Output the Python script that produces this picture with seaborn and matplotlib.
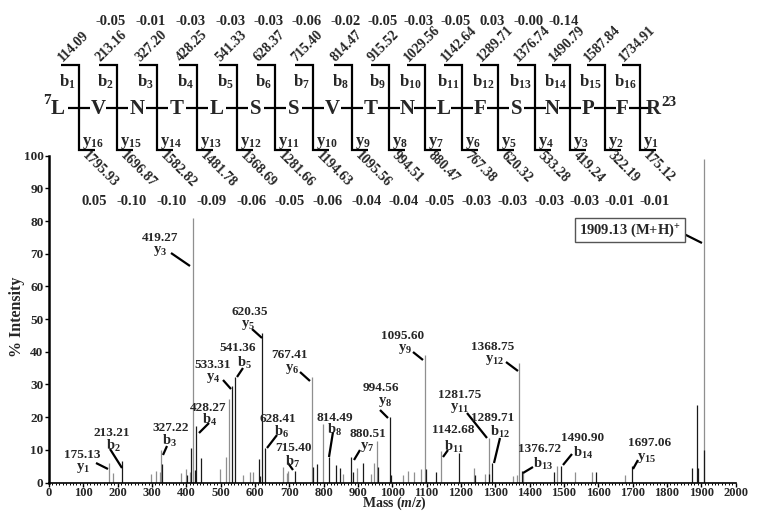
import matplotlib
matplotlib.use("Agg")
import matplotlib.pyplot as plt
from matplotlib.ticker import MultipleLocator
import pandas as pd
import seaborn as sns

# ---------------- peptide fragment ladder ----------------
residues = list("LVNTLSSVTNLFSNPFR")
first_residue = 7
last_residue = 23
b_ions = [114.09, 213.16, 327.20, 428.25, 541.33, 628.37, 715.40, 814.47,
          915.52, 1029.56, 1142.64, 1289.71, 1376.74, 1490.79, 1587.84, 1734.91]
b_errors = [None, -0.05, -0.01, -0.03, -0.03, -0.03, -0.06, -0.02,
            -0.05, -0.03, -0.05, 0.03, -0.00, -0.14, None, None]
# y16 ... y1 (left to right)
y_ions = [1795.93, 1696.87, 1582.82, 1481.78, 1368.69, 1281.66, 1194.63, 1095.56,
          994.51, 880.47, 767.38, 620.32, 533.28, 419.24, 322.19, 175.12]
y_errors = [0.05, -0.10, -0.10, -0.09, -0.06, -0.05, -0.06, -0.04,
            -0.04, -0.05, -0.03, -0.03, -0.03, -0.03, -0.01, -0.01]

# ---------------- assigned fragment peaks ----------------
ann_mz = [175.13, 213.21, 327.22, 419.27, 428.27, 533.31, 541.36, 620.35,
          628.41, 715.40, 767.41, 814.49, 880.51, 994.56, 1095.60, 1142.68,
          1281.75, 1289.71, 1368.75, 1376.72, 1490.90, 1697.06]
ann_int = [6.0, 6.6, 9.9, 81.0, 17.3, 29.6, 32.3, 45.7,
           10.5, 3.6, 32.3, 7.7, 7.8, 20.1, 39.0, 9.6,
           13.5, 6.1, 36.7, 3.5, 5.1, 5.1]
ann_ion = ["y1", "b2", "b3", "y3", "b4", "y4", "b5", "y5",
           "b6", "b7", "y6", "b8", "y7", "y8", "y9", "b11",
           "y11", "b12", "y12", "b13", "b14", "y15"]
ann_dark = [False, True, False, False, True, True, True, True,
            True, True, False, True, True, True, False, False,
            False, True, False, True, True, True]

precursor_mz = 1909.13
precursor_int = 99.0

# ---------------- unassigned peaks ----------------
other_mz = [187.6, 296.5, 312.0, 323.6, 330.4, 384.8, 398.0, 401.0, 411.0, 414.0,
            425.0, 443.0, 498.0, 515.0, 524.6, 566.0, 586.0, 595.5, 612.0, 615.0,
            681.0, 692.6, 697.0, 770.0, 780.0, 797.5, 836.0, 848.0, 856.0, 885.0,
            898.6, 916.0, 937.0, 947.0, 955.0, 957.0, 996.5, 1030.5, 1045.0, 1064.5,
            1083.0, 1098.5, 1126.7, 1195.5, 1238.0, 1240.0, 1270.0, 1283.0, 1352.7, 1362.0,
            1382.0, 1472.0, 1481.0, 1532.5, 1583.0, 1593.0, 1678.0, 1872.0, 1888.7, 1891.7,
            1907.0]
other_int = [2.8, 2.5, 3.5, 3.2, 5.8, 3.0, 4.0, 2.4, 3.2, 10.7,
             3.8, 7.4, 4.0, 7.9, 25.5, 2.4, 3.2, 3.2, 7.2, 2.1,
             4.8, 2.8, 3.6, 4.8, 5.7, 17.9, 5.3, 4.3, 2.7, 3.3,
             4.3, 6.1, 2.7, 6.1, 12.8, 4.8, 2.2, 2.2, 3.5, 3.3,
             4.0, 4.0, 3.3, 8.9, 4.3, 2.2, 2.6, 2.6, 1.9, 2.2,
             3.3, 3.3, 5.1, 3.3, 3.1, 3.3, 2.2, 4.3, 23.7, 4.3,
             9.9]
other_dark = [False, False, False, False, True, False, False, True, False, True,
              True, True, False, False, False, False, False, False, True, True,
              False, False, False, True, True, False, True, True, False, True,
              False, True, False, False, False, True, True, False, False, False,
              False, True, True, True, False, True, False, True, False, False,
              False, True, False, False, False, True, False, True, True, True,
              True]

peaks = pd.DataFrame({
    "mz": ann_mz + [precursor_mz] + other_mz,
    "intensity": ann_int + [precursor_int] + other_int,
    "dark": ann_dark + [False] + other_dark,
})

# ---------------- style ----------------
sns.set_theme(style="ticks")
plt.rcParams["font.family"] = ["Liberation Serif", "DejaVu Serif"]
plt.rcParams["font.weight"] = "bold"
plt.rcParams["mathtext.fontset"] = "custom"
plt.rcParams["mathtext.rm"] = "Liberation Serif:bold"
plt.rcParams["mathtext.bf"] = "Liberation Serif:bold"
plt.rcParams["mathtext.it"] = "Liberation Serif:bold:italic"
plt.rcParams["mathtext.bfit"] = "Liberation Serif:bold:italic"
plt.rcParams["axes.unicode_minus"] = False

W, H = 762, 512
fig = plt.figure(figsize=(W / 100, H / 100), dpi=100)
fig.patch.set_facecolor("white")

# spectrum axes
ax = fig.add_axes([49 / W, (H - 482.5) / H, 686.6 / W, 326.8 / H])
ax.set_facecolor("white")
for dark, grp in peaks.groupby("dark"):
    ax.vlines(grp["mz"], 0, grp["intensity"],
              colors="#1a1a1a" if dark else "#8f8f8f", linewidth=0.9)
ax.set_xlim(0, 2000)
ax.set_ylim(0, 100)
ax.xaxis.set_major_locator(MultipleLocator(100))
ax.xaxis.set_minor_locator(MultipleLocator(10))
ax.yaxis.set_major_locator(MultipleLocator(10))
ax.tick_params(axis="x", which="major", length=3, width=1, direction="out",
               labelsize=9, pad=0, color="black")
ax.tick_params(axis="x", which="minor", length=1.6, width=0.7, direction="out", color="black")
ax.tick_params(axis="y", which="major", length=3, width=1, direction="out",
               labelsize=9.5, pad=1, color="black")
for lab in ax.get_xticklabels() + ax.get_yticklabels():
    lab.set_fontweight("bold")
sns.despine(ax=ax)
ax.spines["left"].set_linewidth(1.8)
ax.spines["bottom"].set_linewidth(1.2)
ax.spines["left"].set_color("black")
ax.spines["bottom"].set_color("black")
ax.grid(False)
ax.set_xlabel("Mass ($m/z$)", fontsize=10, fontweight="bold", va="bottom")
ax.xaxis.set_label_coords((394 - 49) / 686.6, (482.5 - 511.8) / 326.8)
ax.set_ylabel("% Intensity", fontsize=11.5, fontweight="bold", va="center")
ax.yaxis.set_label_coords((17 - 49) / 686.6, (482.5 - 317) / 326.8)

# overlay in figure pixel coordinates for the ladder and peak annotations
ov = fig.add_axes([0, 0, 1, 1], zorder=5)
ov.set_xlim(0, W)
ov.set_ylim(H, 0)
ov.axis("off")
ov.patch.set_alpha(0)

line_kw = dict(color="black", lw=1.6, solid_capstyle="butt", solid_joinstyle="miter")
cut_x = [79, 117, 157, 197, 237, 275, 313, 352, 389, 425, 462, 498, 535, 570, 605, 640]

for i, x in enumerate(cut_x):
    ov.plot([x - 18, x, x, x + 16], [65, 65, 150, 150], **line_kw)
    ov.plot([x - 11, x + 11], [108, 108], **line_kw)
    ov.text(x - 3, 87, f"b$_{{{i + 1}}}$", fontsize=12, ha="right", va="baseline")
    ov.text(x + 3, 145, f"y$_{{{16 - i}}}$", fontsize=12, ha="left", va="baseline")
    ov.text(x - 19, 60, f"{b_ions[i]:.2f}", fontsize=10, rotation=45,
            rotation_mode="anchor", ha="left", va="center")
    ov.text(x + 5, 154, f"{y_ions[i]:.2f}", fontsize=10, rotation=-45,
            rotation_mode="anchor", ha="left", va="center")
    if b_errors[i] is not None:
        ov.text(x - 6, 25, f"{b_errors[i]:.2f}", fontsize=10.5, ha="center", va="baseline")
    ov.text(x + 15, 205, f"{y_errors[i]:.2f}", fontsize=10.5, ha="center", va="baseline")

# residue letters between cleavage sites
res_x = ([cut_x[0] - 21]
         + [(a + b) / 2 for a, b in zip(cut_x[:-1], cut_x[1:])]
         + [cut_x[-1] + 13])
for x, r in zip(res_x, residues):
    ov.text(x, 114, r, fontsize=15, ha="center", va="baseline")
ov.text(res_x[0] - 7, 104, str(first_residue), fontsize=11, ha="right", va="baseline")
ov.text(res_x[-1] + 8, 106, str(last_residue), fontsize=11, ha="left", va="baseline")

# peak annotation layout: mass label centre, ion label centre, leader line
ann_layout = [
    ((82, 455), (83, 468), (96, 463, 108, 469)),
    ((112, 433), (113, 446), (110, 449, 122, 468)),
    ((171, 428), (170, 441), (167, 446, 163, 455)),
    ((160, 238), (160, 251), (171, 253, 190, 266)),
    ((208, 408), (210, 420), (209, 423, 199, 433)),
    ((213, 365), (213, 378), (223, 380, 231, 389)),
    ((238, 348), (245, 363), (243, 368, 237, 377)),
    ((250, 312), (248, 325), (252, 329, 262, 338)),
    ((278, 419), (282, 432), (277, 435, 267, 448)),
    ((293, 448), (293, 462), (288, 463, 293, 470)),
    ((290, 355), (292, 369), (300, 372, 310, 381)),
    ((335, 418), (335, 430), (333, 432, 329, 457)),
    ((368, 434), (367, 447), (360, 450, 354, 460)),
    ((381, 388), (385, 402), (380, 410, 388, 418)),
    ((403, 336), (405, 349), (413, 352, 423, 360)),
    ((453, 430), (454, 447), (448, 450, 443, 457)),
    ((460, 395), (460, 408), (467, 413, 487, 438)),
    ((493, 418), (500, 432), (500, 438, 494, 463)),
    ((493, 347), (495, 360), (506, 362, 518, 371)),
    ((540, 449), (543, 464), (533, 467, 523, 473)),
    ((583, 438), (583, 453), (572, 454, 563, 465)),
    ((650, 443), (647, 458), (638, 460, 633, 469)),
]
for mz, ion, (mpos, ipos, lead) in zip(ann_mz, ann_ion, ann_layout):
    ov.text(mpos[0], mpos[1], f"{mz:.2f}", fontsize=9.5, ha="center", va="center")
    ov.text(ipos[0], ipos[1], f"{ion[0]}$_{{{ion[1:]}}}$", fontsize=10.5,
            ha="center", va="center")
    ov.plot([lead[0], lead[2]], [lead[1], lead[3]], color="black", lw=1.6,
            solid_capstyle="butt")

# precursor ion label
ov.text(630, 230, f"{precursor_mz:.2f} (M+H$)^{{+}}$", fontsize=10.5, ha="center",
        va="center", bbox=dict(boxstyle="square,pad=0.25", fc="white", ec="#555555", lw=1))
ov.plot([682, 702], [233, 243], color="black", lw=1.6, solid_capstyle="butt")

fig.savefig("out.png", dpi=100)
